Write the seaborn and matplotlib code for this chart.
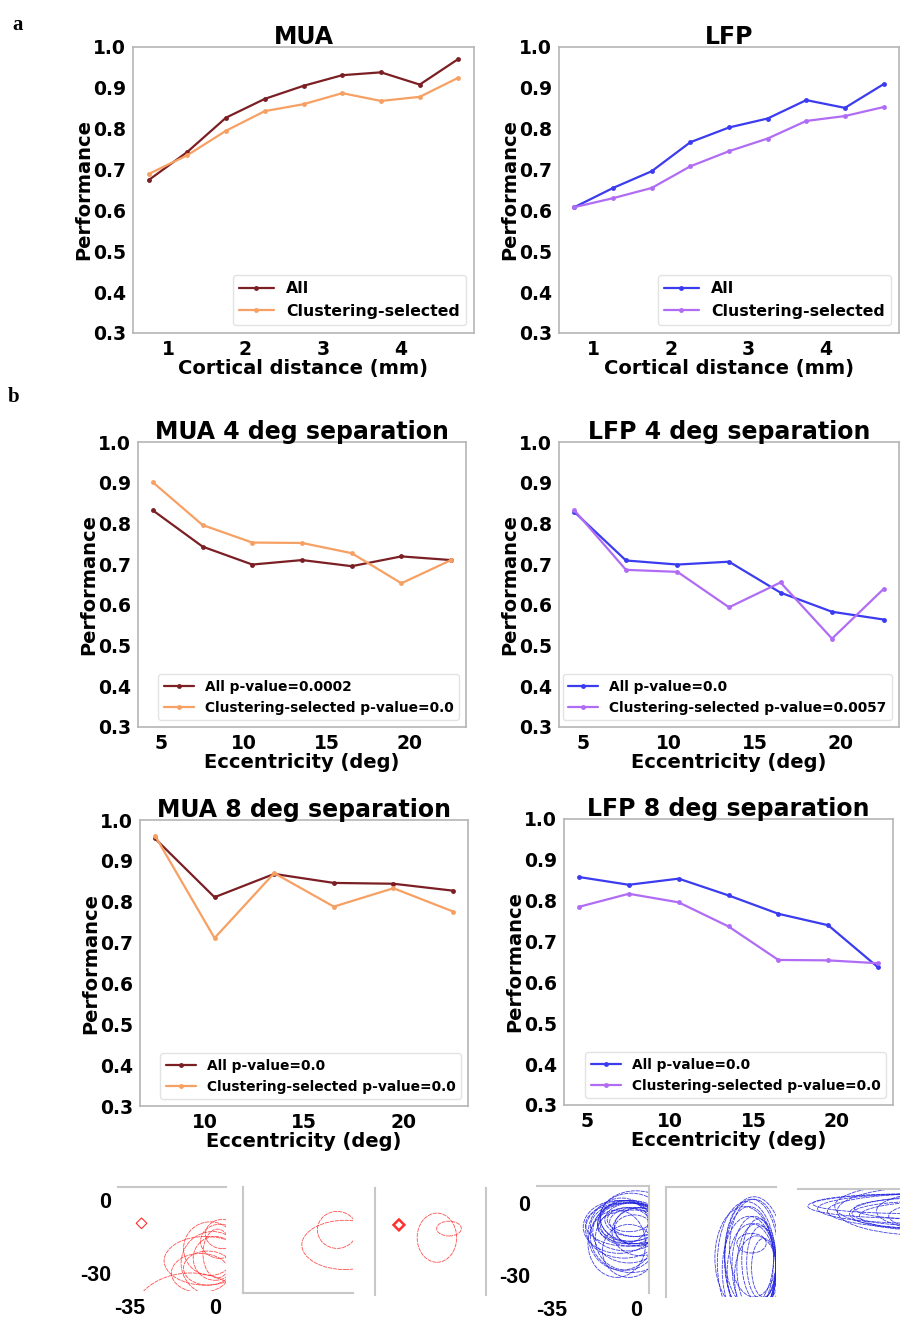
import matplotlib
matplotlib.use("Agg")
import matplotlib.pyplot as plt
import seaborn as sns
import pandas as pd
from matplotlib.patches import Ellipse, Polygon

sns.set_style("white")
plt.rcParams["font.family"] = ["DejaVu Sans"]
plt.rcParams["font.weight"] = "bold"
plt.rcParams["axes.labelweight"] = "bold"
plt.rcParams["axes.titleweight"] = "bold"
plt.rcParams["text.color"] = "black"
plt.rcParams["axes.labelcolor"] = "black"
plt.rcParams["xtick.color"] = "black"
plt.rcParams["ytick.color"] = "black"

# ---------------- data ----------------
cortical_distance = [0.75, 1.25, 1.75, 2.25, 2.75, 3.25, 3.75, 4.25, 4.75]
mua_a_all = [0.674, 0.743, 0.827, 0.873, 0.905, 0.931, 0.938, 0.908, 0.971]
mua_a_sel = [0.689, 0.735, 0.795, 0.843, 0.860, 0.887, 0.868, 0.878, 0.925]
lfp_a_all = [0.608, 0.655, 0.696, 0.767, 0.803, 0.825, 0.870, 0.851, 0.909]
lfp_a_sel = [0.608, 0.630, 0.655, 0.708, 0.745, 0.776, 0.819, 0.831, 0.853]

ecc_full = [4.5, 7.5, 10.5, 13.5, 16.5, 19.5, 22.5]
ecc_mua8 = [7.5, 10.5, 13.5, 16.5, 19.5, 22.5]
mua4_all = [0.832, 0.743, 0.699, 0.710, 0.695, 0.719, 0.710]
mua4_sel = [0.901, 0.796, 0.753, 0.752, 0.727, 0.653, 0.710]
lfp4_all = [0.828, 0.709, 0.699, 0.706, 0.630, 0.583, 0.564]
lfp4_sel = [0.832, 0.686, 0.681, 0.594, 0.655, 0.517, 0.639]
mua8_all = [0.955, 0.811, 0.868, 0.846, 0.844, 0.827]
mua8_sel = [0.962, 0.711, 0.870, 0.788, 0.833, 0.776]
lfp8_all = [0.858, 0.839, 0.854, 0.813, 0.768, 0.740, 0.637]
lfp8_sel = [0.785, 0.817, 0.796, 0.737, 0.655, 0.654, 0.647]

labels_a = ["All", "Clustering-selected"]
labels_mua4 = ["All p-value=0.0002", "Clustering-selected p-value=0.0"]
labels_lfp4 = ["All p-value=0.0", "Clustering-selected p-value=0.0057"]
labels_mua8 = ["All p-value=0.0", "Clustering-selected p-value=0.0"]
labels_lfp8 = ["All p-value=0.0", "Clustering-selected p-value=0.0"]

yticks = [0.3, 0.4, 0.5, 0.6, 0.7, 0.8, 0.9, 1.0]
rf_xticks = [-35, 0]
rf_xticklabels = ["-35", "0"]
rf_yticks = [0, -30]
rf_yticklabels = ["0", "-30"]

# receptive-field contours (cx, cy, width, height) in degrees
rf1_red = [(-4, -25, 34, 20), (-2, -20, 22, 22), (0, -24, 18, 18), (-3, -28, 20, 14),
           (2, -17, 16, 14), (-6, -30, 24, 16), (1, -22, 12, 20), (-1, -26, 26, 26),
           (-10, -48, 48, 36), (3, -14, 14, 12)]
rf1_diamond = (-30.3, -9.6)
rf2_red = [(-1.9, -11.9, 16, 15), (1.3, -18, 35, 20)]
rf3_red = [(-14.9, -14.7, 16, 20), (-10, -11, 10, 6)]
rf3_diamond = (-30.3, -9.5)
rf4_blue = [(-3, -8, 26, 16), (-2, -9, 28, 18), (-4, -10, 30, 20), (-1, -7, 24, 14),
            (-5, -11, 32, 24), (-3, -12, 30, 26), (0, -8, 22, 12), (-2, -6, 26, 20),
            (-6, -13, 28, 30), (-4, -15, 26, 26), (1, -10, 20, 16), (-3, -7, 18, 10),
            (-1, -11, 16, 12), (-7, -10, 30, 22), (-2, -14, 34, 30), (0, -6, 30, 22),
            (-5, -8, 20, 18), (2, -12, 24, 20), (-8, -17, 24, 28), (-3, -20, 22, 22),
            (-4, -9, 34, 18), (-1, -10, 30, 14)]
rf5_blue = [(-6, -25, 20, 44), (-4, -27, 18, 40), (-5, -24, 22, 48), (-3, -28, 16, 36),
            (-7, -26, 24, 50), (-2, -25, 14, 34), (-5, -30, 20, 40), (-4, -22, 24, 46),
            (-6, -29, 22, 44), (-1, -26, 12, 30), (-3, -32, 18, 34), (-8, -24, 24, 42),
            (0, -28, 10, 24), (-4, -20, 20, 40), (-5, -18, 12, 8)]
rf6_blue = [(8, -2, 88, 10), (10, -3, 84, 12), (12, -4, 80, 14), (14, -4, 76, 20),
            (6, -1, 80, 8), (16, -5, 70, 14), (18, -6, 66, 12), (12, -5, 60, 10),
            (20, -4, 56, 16), (22, -6, 50, 12), (10, -2, 70, 18), (15, -3, 64, 9)]

# ---------------- colours ----------------
C_MUA_ALL = "#7b1f24"
C_MUA_SEL = "#f7a063"
C_LFP_ALL = "#3b3bf0"
C_LFP_SEL = "#b06cf5"
SPINE = "#b5b5b5"

W, H = 900, 1321
fig = plt.figure(figsize=(W / 100, H / 100), dpi=100)


def rect(l, t, r, b):
    return [l / W, 1 - b / H, (r - l) / W, (b - t) / H]


def panel(box, x, y1, y2, c1, c2, labels, title, xlabel, xticks, legfs):
    ax = fig.add_axes(rect(*box))
    df = pd.DataFrame({"x": list(x) * 2, "y": list(y1) + list(y2),
                       "s": [labels[0]] * len(x) + [labels[1]] * len(x)})
    sns.lineplot(data=df, x="x", y="y", hue="s", palette=[c1, c2], marker="o",
                 markersize=3.5, markeredgewidth=0, linewidth=1.6, ax=ax)
    ax.set_ylim(0.3, 1.0)
    ax.set_yticks(yticks)
    ax.set_xticks(xticks)
    ax.tick_params(labelsize=13.5, length=3, width=0.8, colors="#888888",
                   labelcolor="black", pad=2)
    for lab in ax.get_xticklabels() + ax.get_yticklabels():
        lab.set_fontweight("bold")
    ax.set_xlabel(xlabel, fontsize=14, labelpad=0, color="black")
    ax.set_ylabel("Performance", fontsize=14, labelpad=0, color="black")
    ax.set_title(title, fontsize=17, pad=2, color="black")
    for s in ax.spines.values():
        s.set_color(SPINE)
        s.set_linewidth(1.2)
    leg = ax.legend(loc="lower right", prop={"weight": "bold", "size": legfs},
                    handlelength=2.2, frameon=True)
    leg.get_frame().set_edgecolor("#dddddd")
    for t in leg.get_texts():
        t.set_color("black")
    return ax


panel((133, 47, 474, 333), cortical_distance, mua_a_all, mua_a_sel, C_MUA_ALL, C_MUA_SEL,
      labels_a, "MUA", "Cortical distance (mm)", [1, 2, 3, 4], 11.3)
panel((559, 47, 899, 333), cortical_distance, lfp_a_all, lfp_a_sel, C_LFP_ALL, C_LFP_SEL,
      labels_a, "LFP", "Cortical distance (mm)", [1, 2, 3, 4], 11.3)
panel((138, 442, 466, 727), ecc_full, mua4_all, mua4_sel, C_MUA_ALL, C_MUA_SEL,
      labels_mua4, "MUA 4 deg separation", "Eccentricity (deg)", [5, 10, 15, 20], 9.9)
panel((559, 442, 899, 727), ecc_full, lfp4_all, lfp4_sel, C_LFP_ALL, C_LFP_SEL,
      labels_lfp4, "LFP 4 deg separation", "Eccentricity (deg)", [5, 10, 15, 20], 9.9)
panel((140, 820, 468, 1106), ecc_mua8, mua8_all, mua8_sel, C_MUA_ALL, C_MUA_SEL,
      labels_mua8, "MUA 8 deg separation", "Eccentricity (deg)", [10, 15, 20], 9.9)
panel((564, 819, 893, 1105), ecc_full, lfp8_all, lfp8_sel, C_LFP_ALL, C_LFP_SEL,
      labels_lfp8, "LFP 8 deg separation", "Eccentricity (deg)", [5, 10, 15, 20], 9.9)

# panel letters
fig.text(12 / W, 1 - 30 / H, "a", fontsize=15, fontweight="bold", family="Liberation Serif")
fig.text(8 / W, 1 - 402 / H, "b", fontsize=15, fontweight="bold", family="Liberation Serif")


# ---------------- RF contour panels ----------------
def rf_panel(box, xlim, ylim, ells, color, spines, ticks=False, diamond=None, dlw=0.8):
    ax = fig.add_axes(rect(*box))
    ax.set_xlim(*xlim)
    ax.set_ylim(*ylim)
    for (cx, cy, w, h) in ells:
        ax.add_patch(Ellipse((cx, cy), w, h, fill=False, edgecolor=color,
                             linewidth=0.6, alpha=0.85, linestyle=(0, (5, 1))))
    if diamond is not None:
        dx, dy = diamond
        d = 2.2
        ax.add_patch(Polygon([(dx - d, dy), (dx, dy + d), (dx + d, dy), (dx, dy - d)],
                             closed=True, fill=False, edgecolor=color, linewidth=dlw))
    for k, s in ax.spines.items():
        s.set_visible(k in spines)
        s.set_color("#c8c8c8")
        s.set_linewidth(1.5)
    if ticks:
        ax.set_xticks(rf_xticks)
        ax.set_xticklabels(rf_xticklabels)
        ax.set_yticks(rf_yticks)
        ax.set_yticklabels(rf_yticklabels)
        ax.tick_params(length=0, labelsize=15.5, pad=5, labelcolor="black")
        for lab in ax.get_xticklabels() + ax.get_yticklabels():
            lab.set_fontweight("bold")
            lab.set_family("Liberation Sans")
    else:
        ax.set_xticks([])
        ax.set_yticks([])
    ax.set_facecolor("none")
    return ax


RED = "#ff3030"
BLUE = "#2020e0"
rf_panel((118, 1187, 226, 1291), (-40, 4.5), (-37.4, 5.3), rf1_red, RED, ["top"],
         ticks=True, diamond=rf1_diamond)
rf_panel((243, 1187, 353, 1293), (-40, 4.5), (-37.5, 5.5), rf2_red, RED, ["left", "bottom"])
rf_panel((375, 1188, 486, 1295), (-40, 5), (-38, 5.5), rf3_red, RED, ["left", "right"],
         diamond=rf3_diamond, dlw=1.8)
rf_panel((537, 1186, 649, 1293), (-41.25, 5.4), (-37.5, 7), rf4_blue, BLUE, ["top", "right"],
         ticks=True)
rf_panel((666, 1187, 776, 1297), (-40, 5), (-40, 5), rf5_blue, BLUE, ["left", "top"])
rf_panel((798, 1189, 900, 1297), (-40, 1.6), (-39, 5), rf6_blue, BLUE, ["top"])

fig.savefig("out.png", dpi=100, facecolor="white")
